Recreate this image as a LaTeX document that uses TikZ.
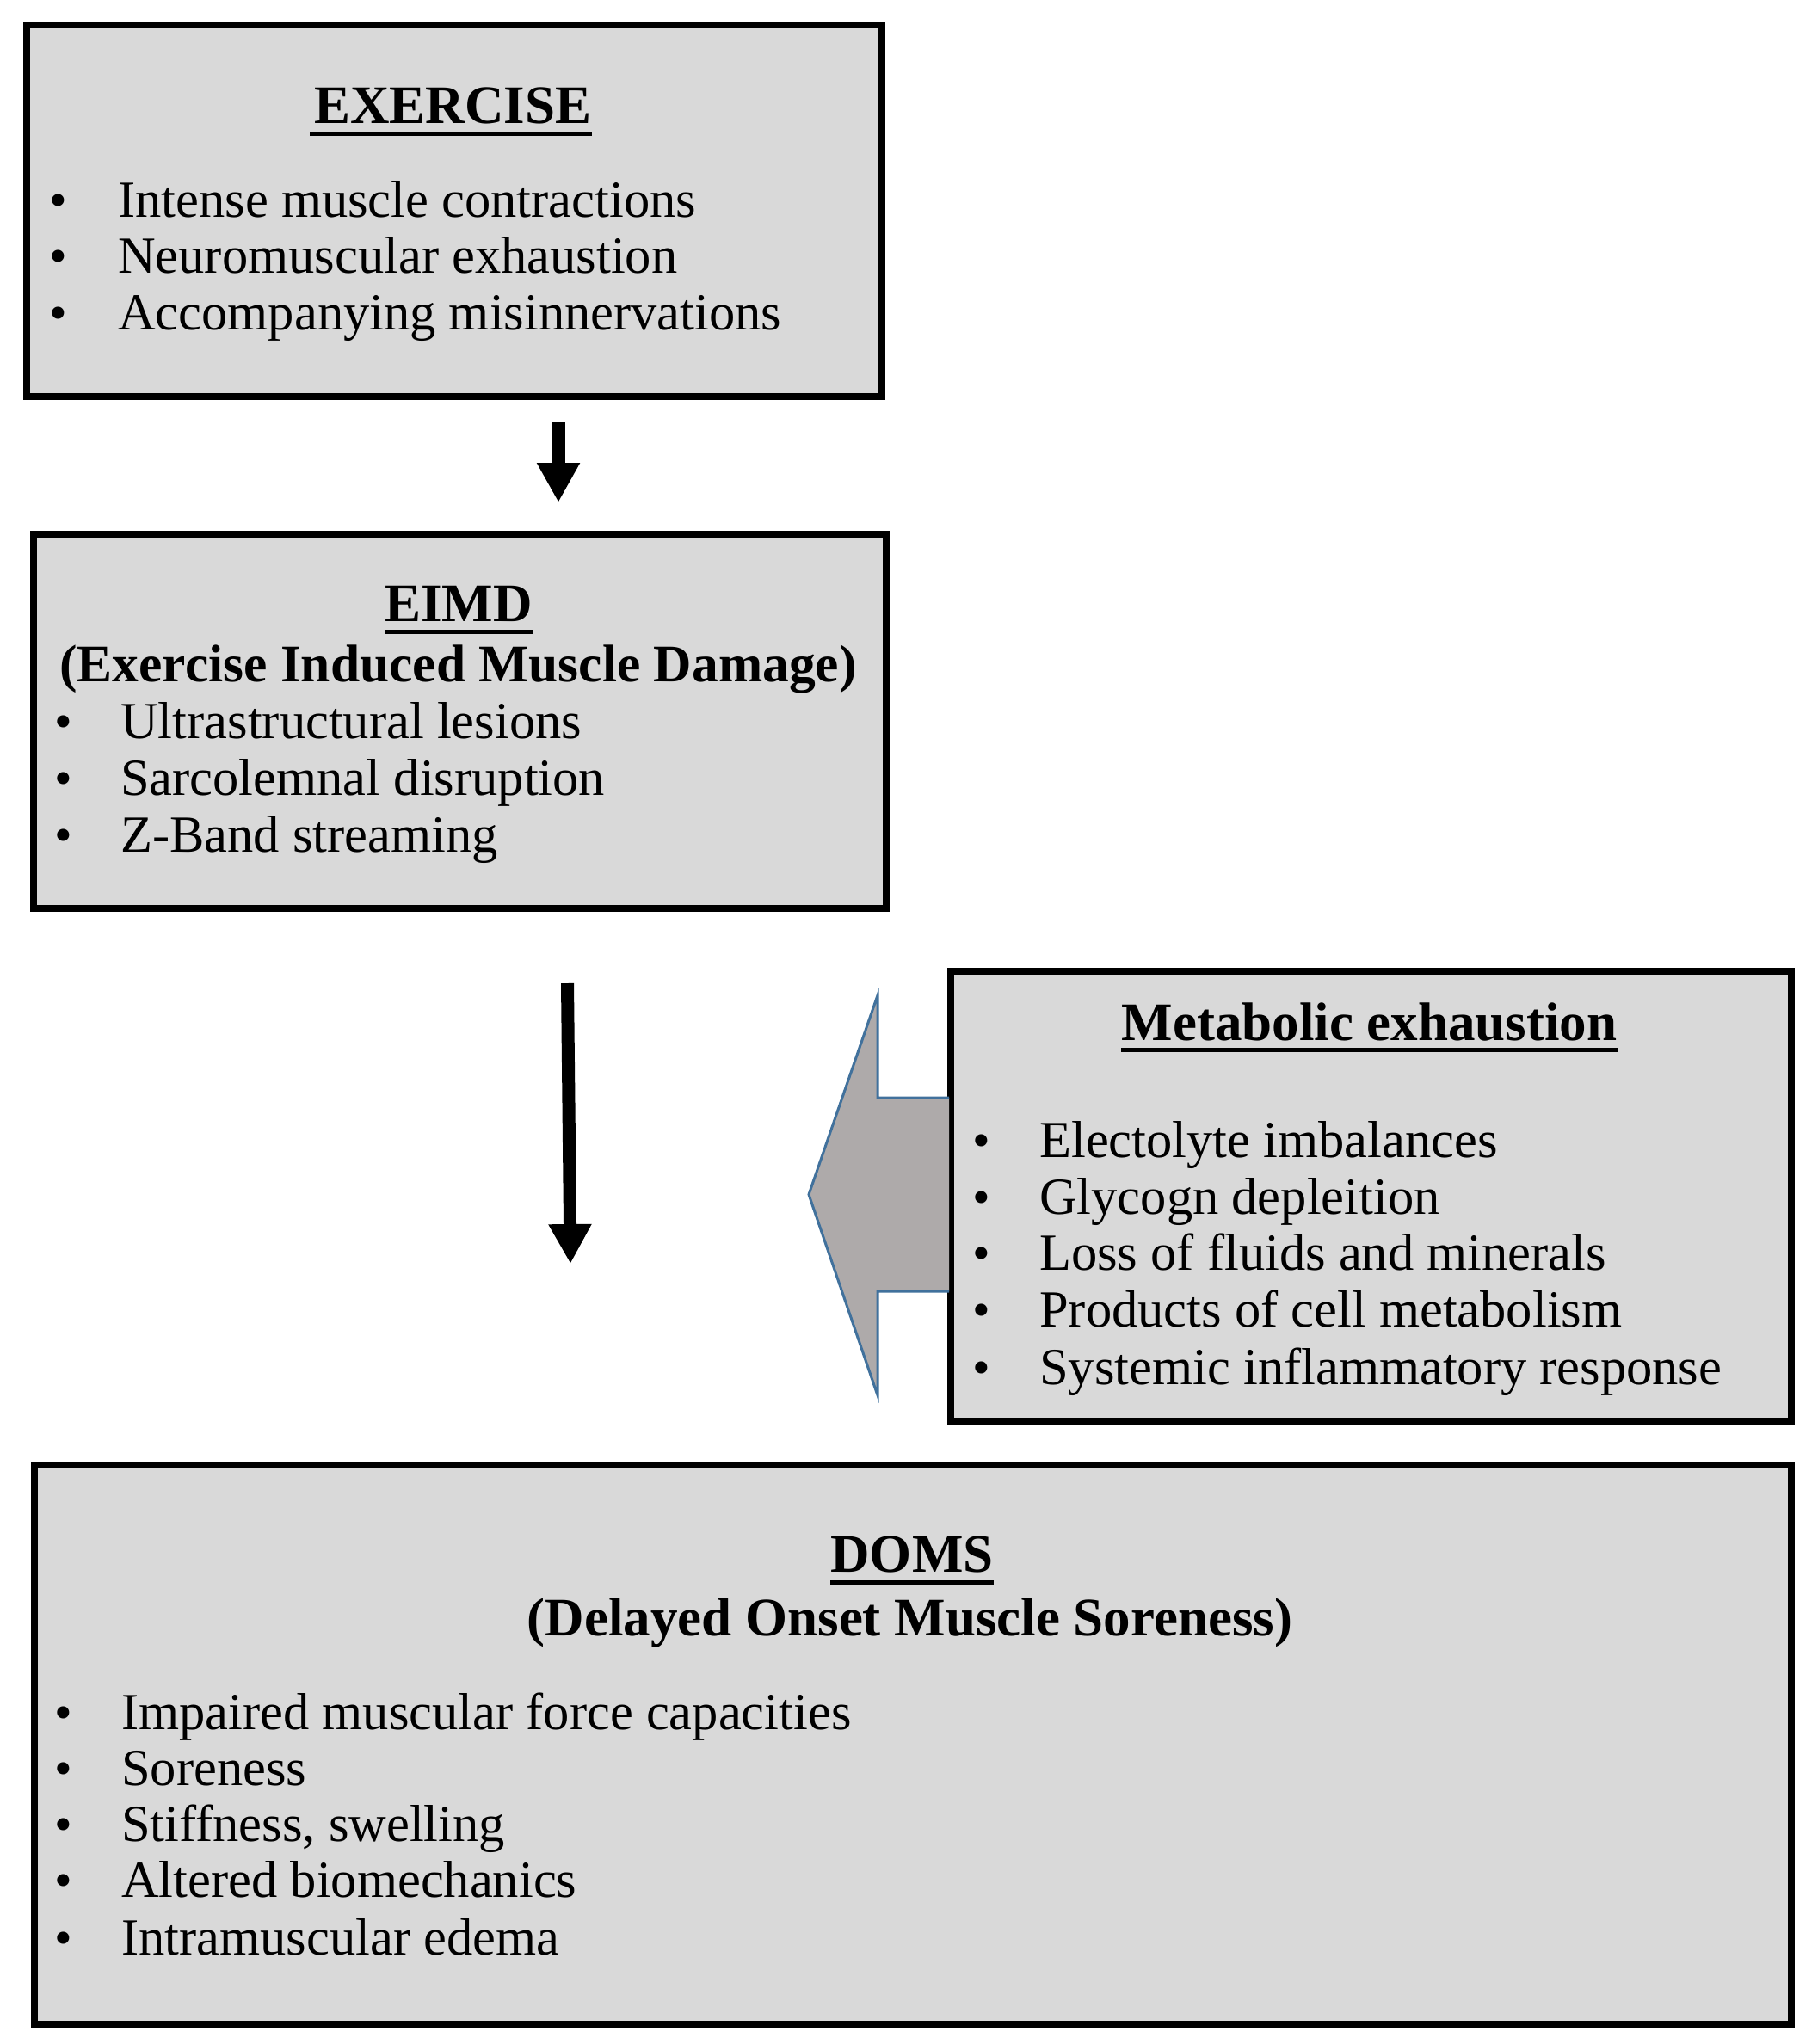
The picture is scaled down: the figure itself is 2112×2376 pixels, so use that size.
\documentclass[tikz,border=0pt]{standalone}
\usepackage{fontspec}
\setmainfont{Liberation Serif}
\usetikzlibrary{arrows.meta,calc}
\definecolor{boxfill}{HTML}{D9D9D9}
\definecolor{arrfill}{HTML}{AEAAAA}
\definecolor{arrline}{HTML}{41719C}
\tikzset{
  box/.style={draw=black, fill=boxfill, line width=8pt, inner sep=0pt, rectangle},
  ttl/.style={anchor=base, inner sep=0pt, font=\fontsize{63}{70}\selectfont\bfseries},
  itm/.style={anchor=base west, inner sep=0pt, font=\fontsize{60.5}{65}\selectfont},
  bul/.style={anchor=base, inner sep=0pt, font=\fontsize{59}{65}\selectfont},
  uline/.style={line width=5pt},
  thickarrow/.style={line width=15pt, -{Triangle[width=47pt,length=46pt]}},
  bigarrow/.style={fill=arrfill, draw=arrline, line width=3pt, line join=miter},
}
\newcommand\mybullet[5]{%
  \node[bul] (#1b) at (#2,#4) {•};
  \node[itm] (#1) at (#3,#4) {#5};
}
\begin{document}
\begin{tikzpicture}[x=1pt,y=-1pt]
\useasboundingbox (0,0) rectangle (2112,2376);

% boxes
\node[box, minimum width=994pt, minimum height=432pt] (ex) at (528,245) {};
\node[box, minimum width=991pt, minimum height=435pt] (eimd) at (534.5,838.5) {};
\node[box, minimum width=977pt, minimum height=523pt] (met) at (1593.5,1390.5) {};
\node[box, minimum width=2042pt, minimum height=650pt] (doms) at (1061,2028) {};

% EXERCISE
\node[ttl] (exT) at (526.5,144) {EXERCISE};
\draw[uline] ([xshift=-5pt,yshift=-12pt]exT.base west) -- ([yshift=-12pt]exT.base east);
\mybullet{ex1}{68}{137}{252}{Intense muscle contractions}
\mybullet{ex2}{68}{137}{317}{Neuromuscular exhaustion}
\mybullet{ex3}{68}{137}{383}{Accompanying misinnervations}

% EIMD
\node[ttl] (eimdT) at (533,722) {EIMD};
\draw[uline] ([yshift=-12pt]eimdT.base west) -- ([yshift=-12pt]eimdT.base east);
\node[ttl, font=\fontsize{61.5}{70}\selectfont\bfseries] (eimdS) at (532.5,792) {(Exercise Induced Muscle Damage)};
\mybullet{ei1}{74}{140}{858}{Ultrastructural lesions}
\mybullet{ei2}{74}{140}{924}{Sarcolemnal disruption}
\mybullet{ei3}{74}{140}{990}{Z-Band streaming}

% Metabolic
\node[ttl] (metT) at (1591.5,1209) {Metabolic exhaustion};
\draw[uline] ([yshift=-11pt]metT.base west) -- ([yshift=-11pt]metT.base east);
\mybullet{me1}{1141}{1208}{1345}{Electolyte imbalances}
\mybullet{me2}{1141}{1208}{1411}{Glycogn depleition}
\mybullet{me3}{1141}{1208}{1476}{Loss of fluids and minerals}
\mybullet{me4}{1141}{1208}{1542}{Products of cell metabolism}
\mybullet{me5}{1141}{1208}{1609}{Systemic inflammatory response}

% DOMS
\node[ttl] (domsT) at (1060,1827) {DOMS};
\draw[uline] ([yshift=-12pt]domsT.base west) -- ([yshift=-12pt]domsT.base east);
\node[ttl] (domsS) at (1057.5,1901) {(Delayed Onset Muscle Soreness)};
\mybullet{do1}{74}{141}{2010}{Impaired muscular force capacities}
\mybullet{do2}{74}{141}{2075}{Soreness}
\mybullet{do3}{74}{141}{2140}{Stiffness, swelling}
\mybullet{do4}{74}{141}{2205}{Altered biomechanics}
\mybullet{do5}{74}{141}{2272}{Intramuscular edema}

% arrows
\draw[thickarrow] ([xshift=121pt,yshift=-25pt]ex.south) -- ([xshift=114.5pt,yshift=33pt]eimd.north);
\draw[thickarrow] ([xshift=125pt,yshift=-83pt]eimd.south) -- ([xshift=-398pt,yshift=230pt]doms.north);

% big block arrow from metabolic box
\draw[bigarrow] ($(met.west)+(2,-114.5)$) -- ($(met.west)+(-81,-114.5)$)
  -- ($(met.west)+(-81,-233.5)$) -- ($(met.west)+(-161,-2)$)
  -- ($(met.west)+(-81,231.5)$) -- ($(met.west)+(-81,110.5)$)
  -- ($(met.west)+(2,110.5)$);
\end{tikzpicture}
\end{document}
